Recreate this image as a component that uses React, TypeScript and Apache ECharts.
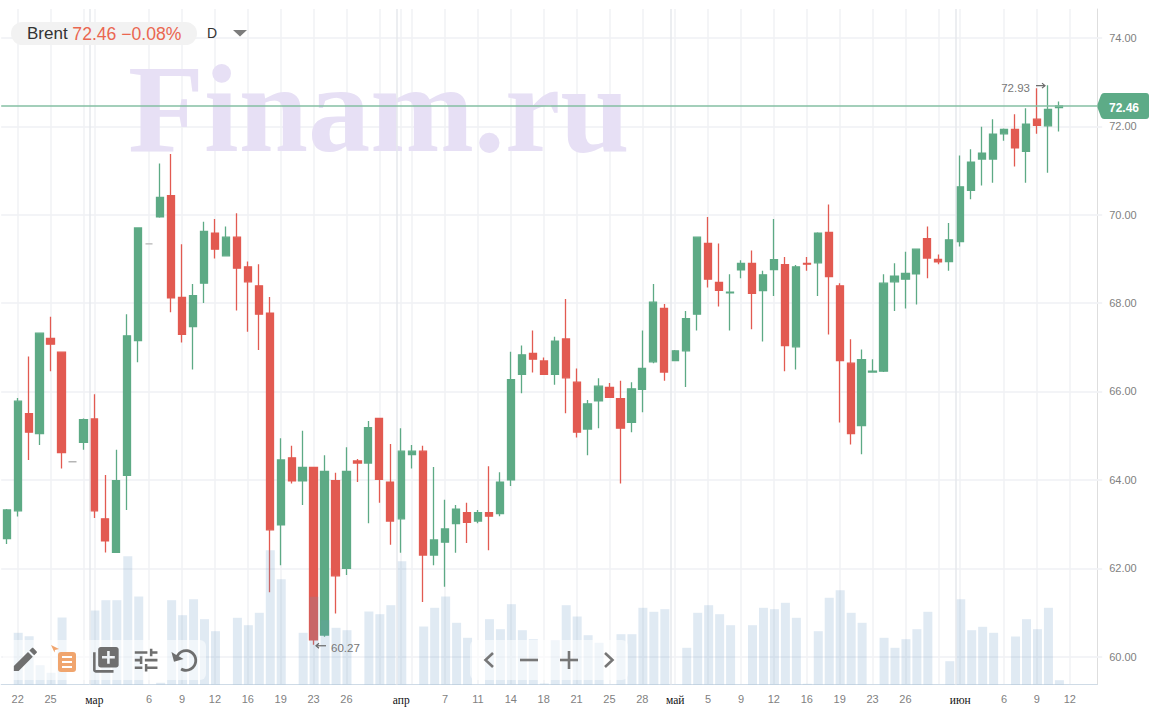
import React, { useEffect, useRef } from "react";
import * as echarts from "echarts";

const opens = [62.67,63.30,65.50,65.05,67.20,66.89,64.41,64.85,65.38,63.12,62.36,64.10,67.15,69.34,69.95,70.43,68.13,67.47,68.45,69.58,69.07,69.49,68.82,68.39,67.77,62.98,64.50,63.98,64.28,60.49,63.98,62.00,64.43,64.38,65.39,63.95,63.12,64.57,64.65,62.30,62.59,63.01,63.26,63.07,63.26,63.24,64.00,66.39,66.86,66.69,66.39,67.19,66.21,65.15,65.79,66.09,65.84,65.30,66.05,66.67,67.88,66.70,66.92,67.75,69.35,68.47,68.23,68.75,68.90,68.28,68.76,68.87,67.01,68.90,68.91,69.60,68.39,66.64,65.23,66.44,66.46,68.48,68.54,68.66,69.46,68.99,68.94,69.39,70.55,71.26,71.26,71.83,71.93,71.43,72.16,72.01,72.42];
const closes = [63.32,65.78,65.08,67.32,67.07,64.62,64.41,65.36,63.30,62.62,63.98,67.26,69.70,69.34,70.39,68.12,67.29,68.17,69.62,69.22,69.49,68.79,68.48,67.75,62.87,64.45,63.98,64.28,60.38,64.19,61.83,64.19,64.38,65.18,64.01,63.07,64.65,64.65,62.30,62.64,62.89,63.34,63.04,63.26,63.18,63.95,66.27,66.83,66.73,66.39,67.14,66.31,65.08,65.72,66.12,65.87,65.17,66.06,66.52,68.02,66.44,66.92,67.65,69.49,68.54,68.29,68.25,68.90,68.22,68.64,68.98,67.04,68.82,68.88,69.58,68.60,66.70,65.05,66.72,66.46,68.45,68.61,68.67,69.22,69.02,68.93,69.43,70.63,71.19,71.39,71.82,71.93,71.51,72.05,72.02,72.38,72.46];
const lows = [62.55,63.17,64.45,64.79,66.46,64.26,64.41,64.68,63.14,62.36,62.36,63.32,66.66,69.34,69.93,67.79,67.11,66.50,68.00,69.01,69.07,67.83,67.35,66.94,61.46,62.07,63.92,63.43,60.27,60.45,60.98,61.85,63.95,63.02,63.48,62.53,62.35,64.26,61.24,62.07,61.58,62.35,62.57,63.02,62.41,63.18,63.86,65.96,66.43,66.39,66.15,65.51,64.96,64.56,65.17,65.85,63.92,65.08,65.53,66.64,66.24,66.70,66.10,67.38,68.35,67.92,67.38,68.56,67.41,67.13,68.16,66.46,66.50,68.73,68.16,67.29,65.30,64.80,64.58,66.44,66.44,67.82,67.88,67.97,68.56,68.88,68.73,69.28,70.35,70.66,70.72,71.67,71.09,70.72,71.83,70.95,71.88];
const highs = [63.34,65.85,66.79,67.32,67.69,66.89,64.41,65.39,65.94,64.11,64.68,67.75,69.70,69.34,71.16,71.37,69.33,68.43,69.84,69.90,69.73,70.03,68.94,68.88,68.14,64.94,64.77,65.11,64.28,64.56,64.16,64.74,64.47,65.33,65.39,64.81,65.17,64.79,64.77,64.29,63.55,63.43,63.48,63.32,64.31,64.17,66.90,67.04,67.38,66.77,67.24,68.09,66.52,65.81,66.30,66.19,66.24,66.21,67.38,68.43,67.98,66.94,67.82,69.49,69.95,69.35,68.65,68.97,69.19,68.73,69.90,69.04,68.86,69.04,69.60,70.23,68.45,67.18,66.95,66.73,68.65,68.90,69.16,69.22,69.73,69.10,69.81,71.34,71.48,71.99,72.16,71.95,72.27,72.41,72.86,72.93,72.56];
const volumes = [0,51.7,48.3,19.3,11.7,67,0,0,74,84.3,84.3,128.3,88,0,1.7,84.3,69.3,85.3,65.3,53.3,0,66.7,59.3,71.7,134.3,105.3,0,51.7,87.7,64.3,56.7,54.3,0,73,70.3,79.3,123.3,0,58,76.7,88,61.7,46.7,0,65.3,55.3,80.3,54.3,45.3,1,44.3,79.3,68,49.3,41.7,0,50.3,50.3,76.7,72.7,75.3,0,36.7,71.7,79.3,70.3,59.3,0,59.3,76.7,75.3,81.7,66.7,0.7,53.3,86.7,94.3,71.7,61.7,0,46.7,36.7,45.3,55.3,72.7,0,23.3,85.3,54.3,57.7,51.7,0,48,65.3,55.3,76.7,4.3];

const tickIndexes = [1,4,8,13,16,19,22,25,28,31,36,40,43,46,49,52,55,58,61,64,67,70,73,76,79,82,87,91,94,97];
const tickLabels = ["22","25","мар","6","9","12","16","19","23","26","апр","7","11","14","18","21","25","28","май","5","9","12","16","19","23","26","июн","6","9","12"];
const extraGridIndexes = [7,34,37,85];
const monthLabels = ["мар","апр","май","июн"];
const priceTicks = [60,62,64,66,68,70,72,74];
const lastPrice = 72.46;
const highPoint = { index: 95, value: 72.93, label: "72.93" };
const lowPoint = { index: 28, value: 60.27, label: "60.27" };

const slotCount = 100;
const categories: string[] = Array.from({ length: slotCount }, (_, i) => {
  const p = tickIndexes.indexOf(i);
  return p >= 0 ? tickLabels[p] : "";
});

const UP = "#5daa85";
const DOWN = "#e25a51";
const ICON = "#777777";

echarts.graphic.registerShape("icEdit", echarts.graphic.extendPath("M3 17.25V21h3.75L17.81 9.94l-3.75-3.75L3 17.25zM20.71 7.04c.39-.39.39-1.02 0-1.41l-2.34-2.34c-.39-.39-1.02-.39-1.41 0l-1.83 1.83 3.75 3.75 1.83-1.83z", {}));
echarts.graphic.registerShape("icLib", echarts.graphic.extendPath("M4 6H2v14c0 1.1.9 2 2 2h14v-2H4V6zm16-4H8c-1.1 0-2 .9-2 2v12c0 1.1.9 2 2 2h12c1.1 0 2-.9 2-2V4c0-1.1-.9-2-2-2zm-1 9h-4v4h-2v-4H9V9h4V5h2v4h4v2z", {}));
echarts.graphic.registerShape("icTune", echarts.graphic.extendPath("M3 17v2h6v-2H3zM3 5v2h10V5H3zm10 16v-2h8v-2h-8v-2h-2v6h2zM7 9v2H3v2h4v2h2V9H7zm14 4v-2H11v2h10zm-6-4h2V7h4V5h-4V3h-2v6z", {}));
echarts.graphic.registerShape("icReplay", echarts.graphic.extendPath("M12 5V1L7 6l5 5V7c3.31 0 6 2.69 6 6s-2.69 6-6 6-6-2.69-6-6H4c0 4.42 3.58 8 8 8s8-3.58 8-8-3.58-8-8-8z", {}));
echarts.graphic.registerShape("badge", echarts.graphic.extendPath("M7 0H49Q52 0 52 3V23Q52 26 49 26H7Q5 26 4 24L0.6 15Q0 13 0.6 11L4 2Q5 0 7 0Z", {}));

export default function App() {
  const ref = useRef<HTMLDivElement>(null);
  useEffect(() => {
    const chart = echarts.init(ref.current!, undefined, { renderer: "svg" });
    const font = "'Liberation Sans', Arial, sans-serif";
    const axisText = "#7f7f7f";
    const gridColor = "#f3f4f7";
    chart.setOption({
      animation: false,
      backgroundColor: "#ffffff",
      grid: { left: 1.2, width: 1096, top: 9, height: 675.5, containLabel: false },
      xAxis: {
        type: "category",
        data: categories,
        boundaryGap: true,
        axisLine: { lineStyle: { color: "#cfdbe6", width: 1 } },
        axisTick: {
          alignWithLabel: true,
          length: 5,
          interval: (i: number) => categories[i] !== "" ,
          lineStyle: { color: "#e6e8ec" },
        },
        axisLabel: {
          interval: 0,
          margin: 9,
          color: axisText,
          fontFamily: font,
          fontSize: 11,
          formatter: (v: string) => (monthLabels.includes(v) ? `{m|${v}}` : v),
          rich: { m: { color: "#111111", fontFamily: "'Liberation Serif', serif", fontSize: 11.5 } },
        },
        splitLine: {
          show: true,
          alignWithLabel: true,
          interval: (i: number) => categories[i] !== "" || extraGridIndexes.includes(i),
          lineStyle: { color: "#f1f2f5", width: 1.5 },
        },
      },
      yAxis: [
        {
          type: "value",
          position: "right",
          min: 59.371,
          max: 74.653,
          axisLine: { show: true, lineStyle: { color: "#dedede", width: 1 } },
          axisTick: { show: true, length: 5, customValues: priceTicks, lineStyle: { color: gridColor, width: 2 } },
          axisLabel: {
            margin: 12,
            color: axisText,
            fontFamily: font,
            fontSize: 11,
            padding: [2, 0, 0, 0],
            customValues: priceTicks,
            formatter: (v: number) => v.toFixed(2),
          },
          splitLine: { show: true, lineStyle: { color: gridColor, width: 2 } },
        },
        {
          type: "value",
          min: 0,
          max: 675.5,
          show: false,
          splitLine: { show: false },
        },
      ],
      series: [
        {
          type: "bar",
          name: "month lines",
          data: [],
          silent: true,
          z: 1,
          markLine: {
            silent: true,
            symbol: "none",
            label: { show: false },
            lineStyle: { color: "#e6e8ec", type: "solid", width: 1.5 },
            data: tickIndexes.filter((_, k) => monthLabels.includes(tickLabels[k])).map((i) => ({ xAxis: i })),
          },
        },
        {
          type: "candlestick",
          name: "Brent",
          barWidth: 7.7,
          z: 3,
          itemStyle: {
            color: UP,
            color0: DOWN,
            borderColor: UP,
            borderColor0: DOWN,
            borderColorDoji: "#b5b5b5",
            borderWidth: 1.3,
          },
          data: opens.map((o, i) => [o, closes[i], lows[i], highs[i]]),
          markLine: {
            silent: true,
            symbol: "none",
            label: { show: false },
            z: 6,
            lineStyle: { color: "#84bfa3", type: "solid", width: 1.6 },
            data: [{ yAxis: lastPrice }],
          },
        },
        {
          type: "bar",
          name: "Volume",
          yAxisIndex: 1,
          barWidth: 9,
          z: 4,
          itemStyle: { color: "rgba(100,150,195,0.2)" },
          data: volumes,
        },
      ],
    });

    const px = (i: number, v: number) =>
      chart.convertToPixel({ xAxisIndex: 0, yAxisIndex: 0 }, [i, v]) as number[];
    const hi = px(highPoint.index, highPoint.value);
    const lo = px(lowPoint.index, lowPoint.value);
    const last = px(96, lastPrice);
    const panelFill = "rgba(255,255,255,0.55)";
    const navStroke = { stroke: ICON, lineWidth: 2.6, fill: "none" };
    chart.setOption({
      graphic: [
        {
          type: "text", z: 1, x: 128, y: 171, silent: true,
          style: {
            text: "Finam.ru", fontFamily: "'Liberation Serif', serif", fontWeight: "bold",
            fontSize: 124.5, fill: "#e7e0f5", verticalAlign: "bottom",
          },
        },
        { type: "rect", z: 20, shape: { x: 11, y: 22, width: 186, height: 23, r: 11.5 }, style: { fill: "#f2f2f2" } },
        {
          type: "text", z: 21, x: 27, y: 33.5,
          style: {
            text: "{b|Brent }{p|72.46 −0.08%}", verticalAlign: "middle",
            rich: {
              b: { fontFamily: font, fontSize: 17, fill: "#333333" },
              p: { fontFamily: font, fontSize: 17.6, fill: "#ea6650" },
            },
          },
        },
        { type: "text", z: 21, x: 207, y: 33, style: { text: "D", fontFamily: font, fontSize: 14, fill: "#333333", verticalAlign: "middle" } },
        { type: "polygon", z: 21, shape: { points: [[233, 30], [247, 30], [240, 36.5]] }, style: { fill: "#7c7c7c" } },

        { type: "badge", z: 22, x: 1097, y: last[1] - 13, style: { fill: "#5dab87" } },
        { type: "text", z: 23, x: 1124, y: last[1] + 2, style: { text: "72.46", fontFamily: font, fontSize: 12, fontWeight: "bold", fill: "#ffffff", align: "center", verticalAlign: "middle" } },

        { type: "text", z: 21, x: 1030, y: hi[1] + 3, style: { text: highPoint.label, fontFamily: font, fontSize: 11.5, fill: "#777777", align: "right", verticalAlign: "middle" } },
        { type: "line", z: 21, shape: { x1: 1036, y1: hi[1] + 0.5, x2: 1044, y2: hi[1] + 0.5 }, style: { stroke: "#666666", lineWidth: 1.2 } },
        { type: "polyline", z: 21, shape: { points: [[1042, hi[1] - 2], [1045, hi[1] + 0.5], [1042, hi[1] + 3]] }, style: { stroke: "#666666", lineWidth: 1.2, fill: "none" } },
        { type: "text", z: 21, x: 331, y: lo[1] + 3, style: { text: lowPoint.label, fontFamily: font, fontSize: 11.5, fill: "#777777", verticalAlign: "middle" } },
        { type: "line", z: 21, shape: { x1: 317, y1: lo[1] + 1, x2: 326, y2: lo[1] + 1 }, style: { stroke: "#666666", lineWidth: 1.2 } },
        { type: "polyline", z: 21, shape: { points: [[319, lo[1] - 1.5], [316, lo[1] + 1], [319, lo[1] + 3.5]] }, style: { stroke: "#666666", lineWidth: 1.2, fill: "none" } },

        { type: "rect", z: 30, shape: { x: 3, y: 640, width: 203, height: 40, r: 6 }, style: { fill: panelFill } },
        { type: "rect", z: 30, shape: { x: 470, y: 640, width: 158, height: 40, r: 6 }, style: { fill: panelFill } },

        { type: "icEdit", z: 31, x: 10, y: 644, scaleX: 1.28, scaleY: 1.28, style: { fill: "#6f6f6f" } },
        { type: "polygon", z: 31, shape: { points: [[51, 645], [59, 649], [55, 650], [54.5, 652.5]] }, style: { fill: "#f0a56e" } },
        { type: "rect", z: 31, shape: { x: 58, y: 652, width: 18, height: 20, r: 3 }, style: { fill: "#f0a56e" } },
        { type: "rect", z: 32, shape: { x: 62, y: 656, width: 10, height: 2 }, style: { fill: "#ffffff" } },
        { type: "rect", z: 32, shape: { x: 62, y: 661, width: 10, height: 2 }, style: { fill: "#ffffff" } },
        { type: "rect", z: 32, shape: { x: 62, y: 666, width: 10, height: 2 }, style: { fill: "#ffffff" } },
        { type: "icLib", z: 31, x: 90.5, y: 644.5, scaleX: 1.28, scaleY: 1.28, style: { fill: "#6f6f6f" } },
        { type: "icTune", z: 31, x: 131, y: 645, scaleX: 1.26, scaleY: 1.26, style: { fill: "#6f6f6f" } },
        { type: "icReplay", z: 31, x: 174, y: 647.5, originX: 12, originY: 13, scaleX: 1.4, scaleY: 1.4, rotation: Math.PI / 3, style: { fill: "#6f6f6f" } },

        { type: "polyline", z: 31, shape: { points: [[493, 653], [485.5, 660], [493, 667]] }, style: navStroke },
        { type: "line", z: 31, shape: { x1: 520, y1: 660, x2: 538, y2: 660 }, style: navStroke },
        { type: "line", z: 31, shape: { x1: 560, y1: 660, x2: 578, y2: 660 }, style: navStroke },
        { type: "line", z: 31, shape: { x1: 569, y1: 651, x2: 569, y2: 669 }, style: navStroke },
        { type: "polyline", z: 31, shape: { points: [[605, 653], [612.5, 660], [605, 667]] }, style: navStroke },
      ],
    });
    return () => chart.dispose();
  }, []);
  return <div ref={ref} style={{ position: "absolute", left: 0, top: 0, width: 1149, height: 725 }} />;
}
